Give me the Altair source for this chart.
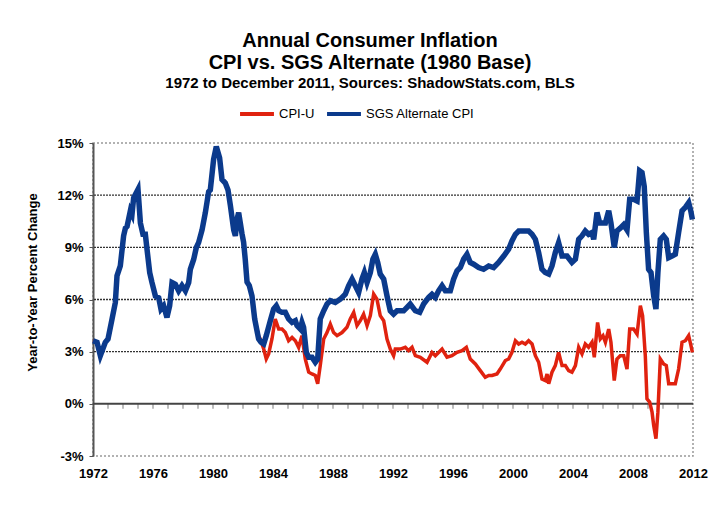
import altair as alt
import pandas as pd

# ---- data (decimal years, % change) ----
sgs_years = [1972.00, 1972.27, 1972.49, 1972.82, 1973.00, 1973.27, 1973.49, 1973.60, 1973.82,
             1974.04, 1974.16, 1974.27, 1974.49, 1974.60, 1974.71, 1975.00, 1975.16, 1975.33,
             1975.49, 1975.60, 1975.78, 1975.93, 1976.16, 1976.38, 1976.53, 1976.71, 1976.93,
             1977.11, 1977.27, 1977.49, 1977.71, 1977.93, 1978.16, 1978.38, 1978.49, 1978.71,
             1978.89, 1979.04, 1979.27, 1979.49, 1979.71, 1979.82, 1980.04, 1980.22, 1980.44,
             1980.60, 1980.82, 1981.00, 1981.16, 1981.38, 1981.49, 1981.60, 1981.71, 1981.82,
             1981.93, 1982.04, 1982.15, 1982.27,
             1982.42, 1982.60, 1982.78, 1983.04, 1983.20, 1983.38, 1983.55, 1983.82, 1984.04,
             1984.22, 1984.38, 1984.60, 1984.82, 1985.04, 1985.27, 1985.49, 1985.60, 1985.82,
             1985.93, 1986.04, 1986.22, 1986.38, 1986.60, 1986.82, 1986.98, 1987.15, 1987.38,
             1987.60, 1987.82, 1988.15, 1988.49, 1988.82, 1989.04, 1989.27, 1989.49, 1989.71,
             1989.93, 1990.09, 1990.27, 1990.49, 1990.66, 1990.82, 1990.98, 1991.15, 1991.38,
             1991.60, 1991.82, 1992.04, 1992.27, 1992.71, 1993.15, 1993.49, 1993.78, 1994.04,
             1994.38, 1994.60, 1994.82, 1995.04, 1995.27, 1995.49, 1995.82, 1996.04, 1996.27,
             1996.49, 1996.71, 1996.93, 1997.15, 1997.38, 1997.71, 1998.04, 1998.38, 1998.71,
             1999.04, 1999.38, 1999.71, 1999.93, 2000.16, 2000.38, 2000.71, 2001.04, 2001.27,
             2001.49, 2001.71, 2001.93, 2002.15, 2002.38, 2002.60, 2002.82, 2003.04, 2003.27,
             2003.60, 2003.93, 2004.16, 2004.38, 2004.60, 2004.82, 2005.04, 2005.27, 2005.38,
             2005.60, 2005.78, 2005.93, 2006.16, 2006.38, 2006.53, 2006.75, 2006.93, 2007.15,
             2007.38, 2007.60, 2007.78, 2008.04, 2008.27, 2008.44, 2008.60, 2008.75, 2008.89,
             2009.04, 2009.20, 2009.38, 2009.53, 2009.66, 2009.82, 2010.04, 2010.22, 2010.38,
             2010.60, 2010.82, 2011.04, 2011.27, 2011.49, 2011.71, 2011.85, 2011.96]
sgs_values = [3.63, 3.54, 2.77, 3.54, 3.73, 4.88, 5.83, 7.36, 7.93,
              9.66, 10.1, 10.2, 11.1, 10.9, 11.85, 12.33, 10.4, 9.75,
              9.75, 8.9, 7.55, 6.98, 6.2, 6.1, 5.45, 5.64, 4.97,
              5.64, 6.98, 6.88, 6.5, 6.8, 6.5, 6.98, 7.74, 8.3,
              8.99, 9.27, 10.0, 11.0, 12.2, 12.3, 14.05, 14.8, 14.15,
              12.9, 12.7, 12.3, 11.4, 10.0, 9.66, 10.6, 11.0, 10.4,
              9.8, 9.3, 8.3, 7.0,
              6.8, 6.2, 4.88, 3.73, 3.54, 3.44, 3.92, 4.78, 5.45,
              5.64, 5.35, 5.26, 5.26, 4.88, 4.68, 4.78, 4.5, 4.3,
              4.68, 4.4, 2.96, 2.68, 2.68, 2.39, 2.58, 4.88, 5.35,
              5.74, 5.93, 5.83, 6.02, 6.3, 6.79, 7.17, 6.79, 6.4,
              7.17, 7.55, 6.98, 7.55, 8.32, 8.6, 8.13, 7.46, 7.17,
              6.21, 5.35, 5.16, 5.35, 5.35, 5.74, 5.35, 5.26, 5.74,
              6.12, 6.3, 6.12, 6.5, 6.79, 6.5, 6.5, 7.17, 7.65,
              7.84, 8.32, 8.6, 8.13, 8.03, 7.84, 7.74, 7.93, 7.84,
              8.13, 8.5, 8.89, 9.37, 9.75, 9.94, 9.94, 9.94, 9.75,
              9.46, 8.7, 7.74, 7.55, 7.46, 7.93, 8.7, 9.27, 8.5,
              8.5, 8.13, 8.32, 9.46, 9.66, 9.94, 9.75, 9.85, 9.46,
              11.0, 10.4, 10.4, 10.4, 11.1, 10.4, 8.99, 9.94, 10.1,
              10.3, 10.0, 11.76, 11.76, 11.66, 13.4, 13.3, 12.5, 9.85,
              7.74, 7.55, 6.21, 5.45, 7.55, 9.46, 9.66, 9.46, 8.41,
              8.5, 8.6, 9.85, 11.1, 11.3, 11.57, 11.1, 10.6]

# CPI-U equals the SGS series up to 1982 (1980 base), then its own readings
cpi_years = sgs_years[:58] + [
             1982.42, 1982.60, 1982.78, 1983.04, 1983.15, 1983.38, 1983.55, 1983.71, 1983.93,
             1984.15, 1984.38, 1984.60, 1984.82, 1985.04, 1985.27, 1985.49, 1985.71, 1985.93,
             1986.15, 1986.38, 1986.60, 1986.82, 1986.98, 1987.15, 1987.38, 1987.60, 1987.82,
             1988.04, 1988.27, 1988.60, 1988.93, 1989.15, 1989.38, 1989.60, 1989.82, 1990.04,
             1990.27, 1990.49, 1990.71, 1990.93, 1991.15, 1991.38, 1991.60, 1991.82, 1992.04,
             1992.15, 1992.49, 1992.82, 1993.04, 1993.27, 1993.49, 1993.82, 1994.27, 1994.60,
             1994.82, 1995.27, 1995.60, 1995.93, 1996.27, 1996.60, 1996.89, 1997.15, 1997.49,
             1997.82, 1998.15, 1998.38, 1998.60, 1998.93, 1999.15, 1999.49, 1999.71, 1999.93,
             2000.16, 2000.38, 2000.60, 2000.82, 2001.04, 2001.27, 2001.49, 2001.71, 2001.93,
             2002.15, 2002.27, 2002.38, 2002.60, 2002.82, 2003.04, 2003.27, 2003.49, 2003.71,
             2003.93, 2004.16, 2004.38, 2004.60, 2004.82, 2005.04, 2005.27, 2005.42, 2005.64,
             2005.82, 2006.00, 2006.16, 2006.38, 2006.53, 2006.75, 2006.93, 2007.15, 2007.38,
             2007.60, 2007.78, 2008.04, 2008.27, 2008.49, 2008.64, 2008.82, 2008.93, 2009.11,
             2009.27, 2009.38, 2009.53, 2009.66, 2009.82, 2010.04, 2010.22, 2010.38, 2010.60,
             2010.82, 2011.04, 2011.27, 2011.49, 2011.71, 2011.85, 2011.96]
cpi_values = sgs_values[:57] + [7.07] + [
             6.8, 6.2, 4.88, 3.92, 3.73, 3.15, 2.58, 2.87, 3.73,
             4.88, 4.3, 4.3, 4.1, 3.63, 3.82, 3.63, 3.25, 3.92,
             2.58, 1.82, 1.72, 1.63, 1.15, 2.2, 3.73, 4.1, 4.59,
             4.1, 3.92, 4.1, 4.4, 4.88, 5.26, 4.5, 4.78, 5.16,
             4.5, 5.07, 6.31, 6.02, 5.07, 4.78, 3.73, 3.15, 2.77,
             3.15, 3.15, 3.25, 3.06, 3.25, 2.77, 2.68, 2.39, 2.96,
             2.77, 3.15, 2.68, 2.77, 2.96, 3.06, 3.25, 2.58, 2.29,
             1.91, 1.53, 1.63, 1.63, 1.72, 2.0, 2.49, 2.58, 2.96,
             3.63, 3.44, 3.54, 3.44, 3.63, 3.44, 2.77, 2.39, 1.43,
             1.34, 1.72, 1.15, 1.82, 2.2, 2.96, 2.2, 2.2, 1.91,
             1.82, 2.2, 3.25, 2.87, 3.44, 3.25, 3.54, 2.68, 4.68,
             3.73, 3.92, 3.54, 4.3, 3.54, 1.34, 2.58, 2.77, 2.77,
             2.0, 4.3, 4.3, 4.01, 5.64, 5.07, 2.77, 0.29, 0.1,
             -0.48, -1.24, -2.0, -0.48, 2.58, 2.29, 2.2, 1.15, 1.15,
             1.15, 2.0, 3.54, 3.63, 3.92, 3.4, 2.96]

series_names = ["CPI-U", "SGS Alternate CPI"]
series_colors = ["#E0220F", "#0B3A8C"]
grid_values = [3, 6, 9, 12]
zero_value = [0]
y_ticks = [-3, 0, 3, 6, 9, 12, 15]
x_label_years = [1972, 1976, 1980, 1984, 1988, 1992, 1996, 2000, 2004, 2008, 2012]
minor_years = list(range(1973, 2012))

cpi_df = pd.DataFrame({"year": cpi_years, "value": cpi_values, "series": series_names[0]})
sgs_df = pd.DataFrame({"year": sgs_years, "value": sgs_values, "series": series_names[1]})
grid_df = pd.DataFrame({"value": grid_values})
zero_df = pd.DataFrame({"value": zero_value})
tick_df = pd.DataFrame({"year": minor_years, "value": [0] * len(minor_years)})

FONT = "Liberation Sans"

x_scale = alt.Scale(domain=[1972, 2012], nice=False, zero=False)
y_scale = alt.Scale(domain=[-3, 15], nice=False)
color_scale = alt.Scale(domain=series_names, range=series_colors)

x_axis = alt.Axis(values=x_label_years, format="d", grid=False, ticks=False,
                  domain=False, labelFontSize=13, labelFontWeight="bold",
                  labelColor="black", labelPadding=11, title=None, labelFlush=False)
y_axis = alt.Axis(values=y_ticks, labelExpr="datum.value + '%'", grid=False,
                  tickSize=4, tickColor="#555", domainColor="#555",
                  domainWidth=2, labelFontSize=13, labelFontWeight="bold",
                  labelColor="black", labelPadding=6,
                  title="Year-to-Year Percent Change", titleFontSize=13,
                  titleFontWeight="bold", titleColor="black",
                  titleX=-61, titleY=139, titleAlign="center",
                  titleBaseline="middle", titleAngle=270)

x_enc = alt.X("year:Q", scale=x_scale, axis=x_axis)
y_enc = alt.Y("value:Q", scale=y_scale, axis=y_axis)

grid = alt.Chart(grid_df).mark_rule(color="#333", strokeWidth=1.3, strokeDash=[2, 1]).encode(
    y=y_enc)
zero = alt.Chart(zero_df).mark_rule(color="#444", strokeWidth=2).encode(y=y_enc)
ticks = alt.Chart(tick_df).mark_tick(color="#444", thickness=1, size=5, yOffset=2.5,
                                     orient="vertical").encode(x=x_enc, y=y_enc)

legend = alt.Legend(title=None, orient="none", legendX=145, legendY=-48, direction="horizontal",
                    symbolType="stroke", symbolSize=1150, symbolStrokeWidth=4,
                    labelFontSize=13, labelColor="black", labelFont=FONT,
                    columnPadding=4, labelOffset=3, padding=0)

cpi_line = alt.Chart(cpi_df).mark_line(strokeWidth=3.5).encode(
    x=x_enc, y=y_enc, color=alt.Color("series:N", scale=color_scale, legend=legend))
sgs_line = alt.Chart(sgs_df).mark_line(strokeWidth=5.5).encode(
    x=x_enc, y=y_enc, color=alt.Color("series:N", scale=color_scale, legend=legend))

chart = alt.layer(grid, zero, ticks, cpi_line, sgs_line).properties(
    width=600, height=313,
    autosize=alt.AutoSizeParams(type="none"),
    padding={"left": 85, "top": 135, "right": 21, "bottom": 47},
    title=alt.TitleParams(
        text=["Annual Consumer Inflation", "CPI vs. SGS Alternate (1980 Base)"],
        subtitle="1972 to December 2011, Sources: ShadowStats.com, BLS",
        fontSize=20, fontWeight="bold", font=FONT, color="black", lineHeight=22,
        subtitleFontSize=15, subtitleFontWeight="bold", subtitleFont=FONT,
        subtitleColor="black", subtitlePadding=3,
        anchor="middle", frame="group", dx=-23, offset=4),
).configure(font=FONT).configure_view(
    stroke="#999", strokeWidth=1.5, strokeDash=[2, 2]
).configure_axis(labelFont=FONT, titleFont=FONT)

chart.save("out.html", embed_options={"renderer": "svg", "actions": False})
